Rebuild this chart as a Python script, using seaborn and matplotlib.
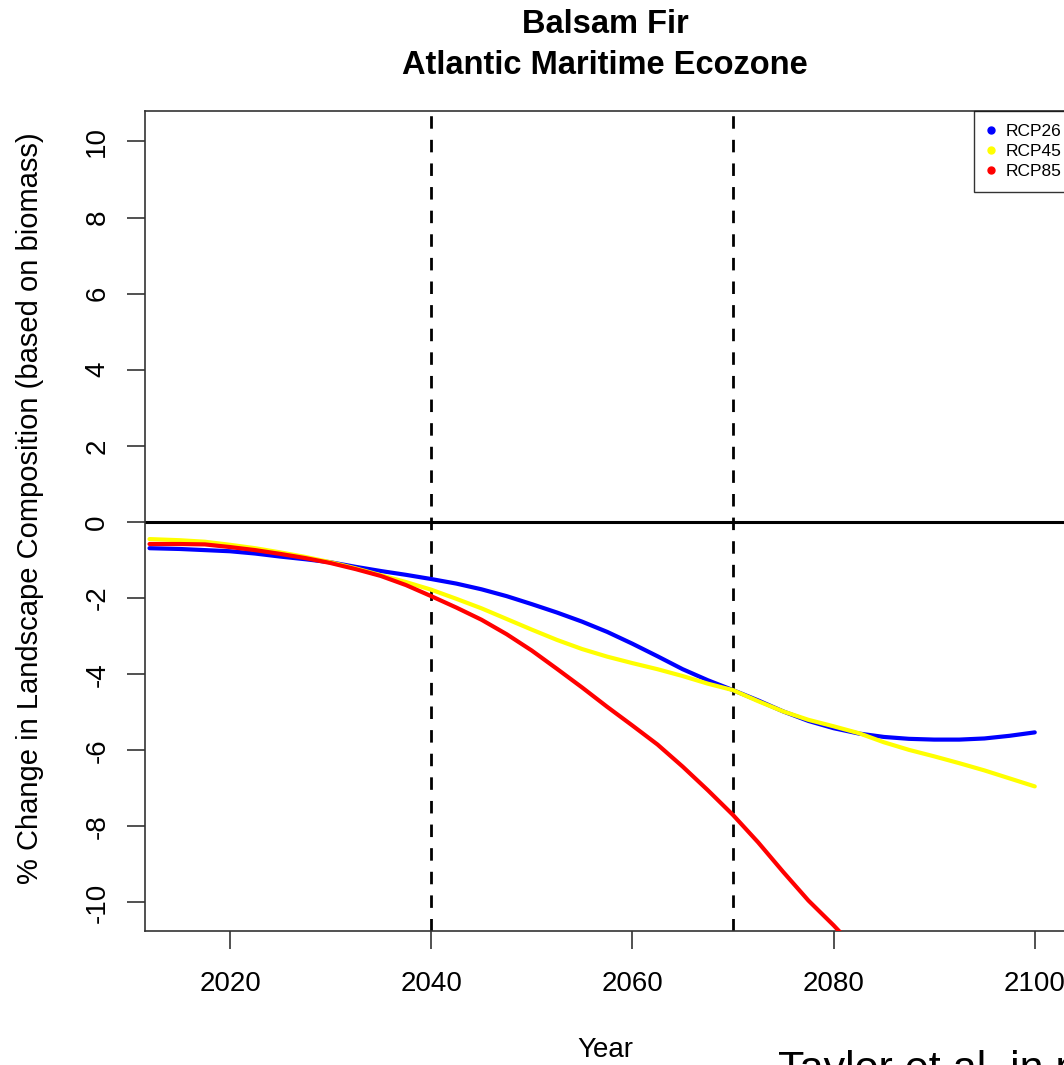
import pandas as pd
import matplotlib
matplotlib.use("Agg")
import matplotlib.pyplot as plt
from matplotlib.lines import Line2D
import seaborn as sns

# Data (values in % change)
years = [2012, 2015, 2017.5, 2020, 2022.5, 2025, 2027.5, 2030, 2032.5, 2035,
         2037.5, 2040, 2042.5, 2045, 2047.5, 2050, 2052.5, 2055, 2057.5, 2060,
         2062.5, 2065, 2067.5, 2070, 2072.5, 2075, 2077.5, 2080, 2082.5, 2085,
         2087.5, 2090, 2092.5, 2095, 2097.5, 2100]
rcp26 = [-0.69, -0.71, -0.74, -0.77, -0.83, -0.91, -0.98, -1.06, -1.18, -1.29,
         -1.39, -1.50, -1.62, -1.77, -1.95, -2.16, -2.38, -2.62, -2.89, -3.20,
         -3.53, -3.87, -4.16, -4.42, -4.69, -4.98, -5.23, -5.42, -5.56, -5.65,
         -5.70, -5.72, -5.72, -5.69, -5.62, -5.53]
rcp45 = [-0.45, -0.48, -0.52, -0.60, -0.69, -0.80, -0.92, -1.06, -1.22, -1.40,
         -1.58, -1.78, -2.02, -2.27, -2.55, -2.83, -3.10, -3.34, -3.54, -3.71,
         -3.87, -4.05, -4.25, -4.42, -4.71, -4.98, -5.20, -5.37, -5.55, -5.79,
         -5.99, -6.16, -6.34, -6.53, -6.74, -6.95]
rcp85 = [-0.58, -0.58, -0.59, -0.66, -0.74, -0.84, -0.95, -1.08, -1.24, -1.42,
         -1.66, -1.95, -2.25, -2.57, -2.95, -3.38, -3.86, -4.35, -4.86, -5.35,
         -5.85, -6.43, -7.05, -7.70, -8.42, -9.20, -9.95, -10.60, -11.30]

scenarios = ["RCP26", "RCP45", "RCP85"]
colors = ["#0000FF", "#FFFF00", "#FF0000"]
marker_years = [2040, 2070]

rows = []
for name, vals in zip(scenarios, [rcp26, rcp45, rcp85]):
    for yr, v in zip(years, vals):
        rows.append({"Year": yr, "Change": v, "Scenario": name})
df = pd.DataFrame(rows)

sns.set_style("white")
plt.rcParams["font.family"] = ["Liberation Sans", "DejaVu Sans"]
plt.rcParams["axes.unicode_minus"] = False
plt.rcParams["text.color"] = "black"
plt.rcParams["axes.labelcolor"] = "black"
plt.rcParams["xtick.color"] = "black"
plt.rcParams["ytick.color"] = "black"

W, H = 1064, 1065
fig = plt.figure(figsize=(W / 100, H / 100), dpi=100)
# axes box runs past the right edge of the picture (cropped like the reference)
ax = fig.add_axes([145 / W, 1 - 931 / H, 930 / W, 820 / H])

sns.lineplot(data=df, x="Year", y="Change", hue="Scenario", hue_order=scenarios,
             palette=colors, linewidth=3.0, legend=False, ax=ax, zorder=3)

ax.axhline(0, color="black", linewidth=2.2, zorder=2)
for yr in marker_years:
    ax.axvline(yr, color="black", linewidth=2, linestyle=(0, (4.5, 4)), zorder=2)

ax.set_xlim(2011.55, 2104)
ax.set_ylim(-10.75, 10.8)
ax.set_xticks([2020, 2040, 2060, 2080, 2100])
ax.set_yticks(range(-10, 11, 2))
ax.tick_params(axis="both", length=13, width=1.2, color="#333333",
               labelsize=20, direction="out", bottom=True, left=True)
ax.tick_params(axis="x", pad=16)
ax.tick_params(axis="y", pad=12)
for lab in ax.get_yticklabels():
    lab.set_rotation(90)
    lab.set_va("center")
for sp in ax.spines.values():
    sp.set_color("#333333")
    sp.set_linewidth(1.2)
ax.set_xlabel("")
ax.set_ylabel("")

fig.text(605 / W, 1 - 1050 / H, "Year", ha="center", va="center", fontsize=20)
fig.text(30 / W, 1 - 508 / H, "% Change in Landscape Composition (based on biomass)",
         ha="center", va="center", rotation=90, fontsize=21)
fig.text(605 / W, 1 - 45 / H, "Balsam Fir\nAtlantic Maritime Ecozone",
         ha="center", va="center", fontsize=23.5, fontweight="bold", linespacing=1.42)
fig.text(778 / W, 1 - 1050 / H, "Taylor et al. in prep.", ha="left", va="top",
         fontsize=31)

handles = [Line2D([], [], linestyle="none", marker="o", markersize=5,
                  color=c, label=s) for s, c in zip(scenarios, colors)]
leg = ax.legend(handles=handles, loc="upper left",
                bbox_to_anchor=(974 / W, 1 - 111 / H), bbox_transform=fig.transFigure,
                fontsize=12.5, frameon=True, fancybox=False, handlelength=0.5,
                handletextpad=0.6, borderpad=0.75, labelspacing=0.28,
                borderaxespad=0)
leg.get_frame().set_edgecolor("black")
leg.get_frame().set_linewidth(1)

fig.savefig("out.png", dpi=100)
